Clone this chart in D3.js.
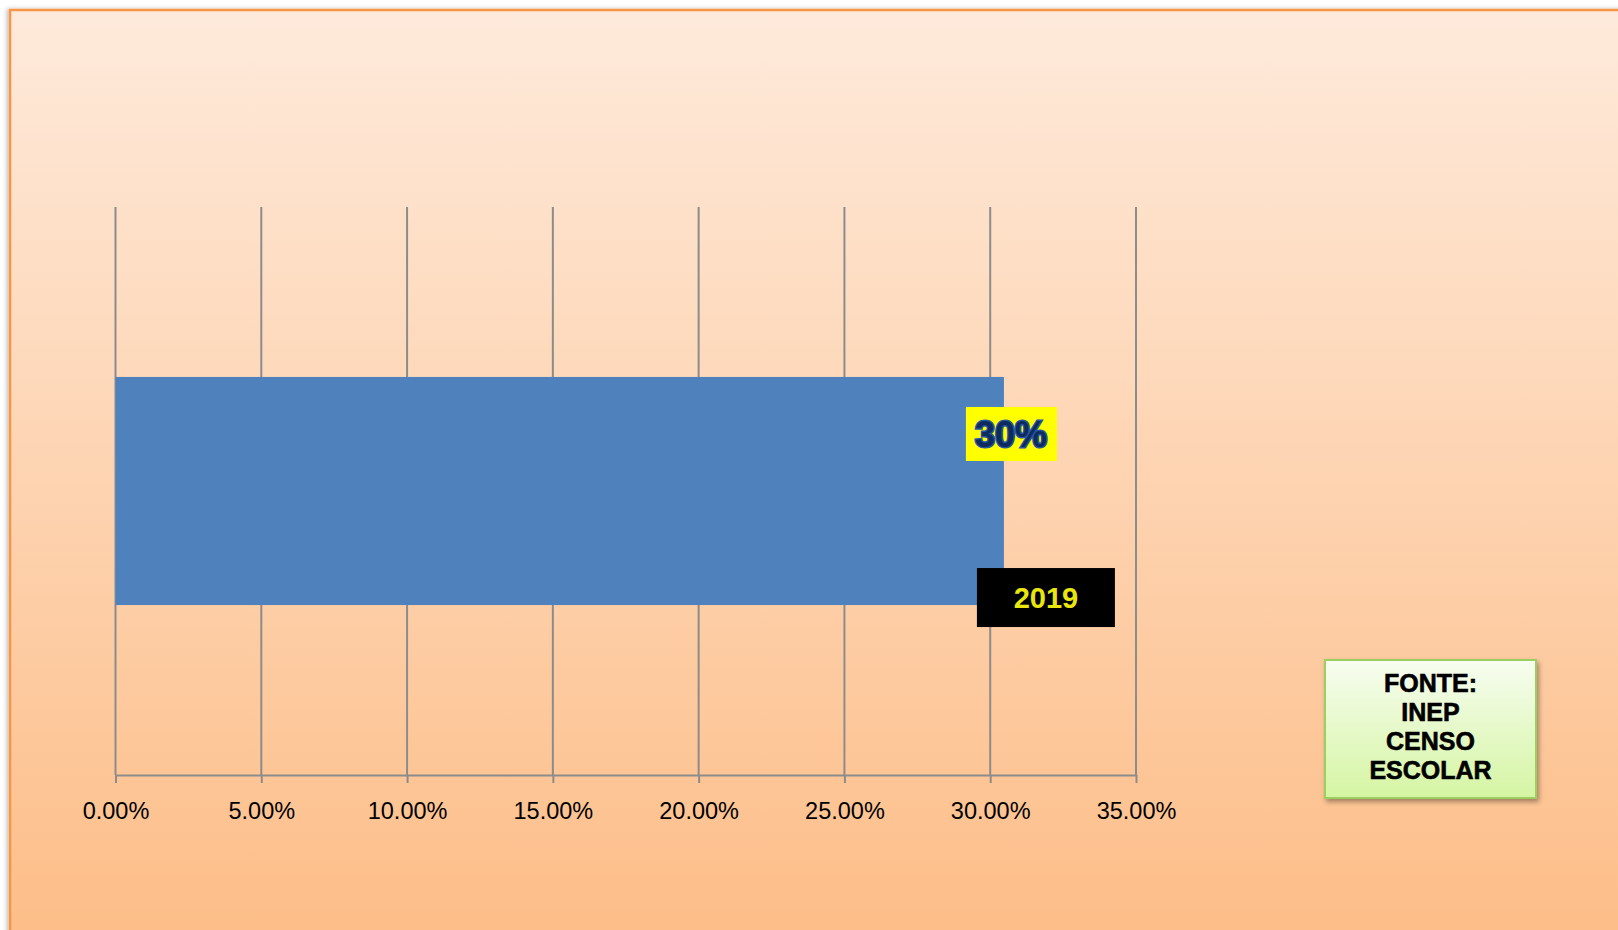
<!DOCTYPE html>
<html>
<head>
<meta charset="utf-8">
<script src="https://cdn.jsdelivr.net/npm/d3@7"></script>
<style>
  body { margin: 0; background: #fff; }
  svg { display: block; }
</style>
</head>
<body>
<svg width="1618" height="930"></svg>
<script>
// data
const categories = ['2019'];
const values = [0.3047];
const valueLabels = ['30%'];
const tickValues = [0, 0.05, 0.10, 0.15, 0.20, 0.25, 0.30, 0.35];
const sourceLines = ['FONTE:', 'INEP', 'CENSO', 'ESCOLAR'];

const svg = d3.select('svg');
const defs = svg.append('defs');

// background gradient (top light peach -> bottom orange)
const bg = defs.append('linearGradient').attr('id', 'bg').attr('x1', 0).attr('y1', 0).attr('x2', 0).attr('y2', 1);
bg.append('stop').attr('offset', '0%').attr('stop-color', '#feeadb');
bg.append('stop').attr('offset', '100%').attr('stop-color', '#fdbd87');

const boxGrad = defs.append('linearGradient').attr('id', 'boxg').attr('x1', 0).attr('y1', 0).attr('x2', 0).attr('y2', 1);
boxGrad.append('stop').attr('offset', '0%').attr('stop-color', '#f7fdf0');
boxGrad.append('stop').attr('offset', '100%').attr('stop-color', '#d5f5a3');

const shadow = defs.append('filter').attr('id', 'shadow').attr('x', '-10%').attr('y', '-10%').attr('width', '130%').attr('height', '130%');
shadow.append('feDropShadow').attr('dx', 2).attr('dy', 3).attr('stdDeviation', 2.5).attr('flood-color', '#000').attr('flood-opacity', 0.35);

const frameShadow = defs.append('filter').attr('id', 'fshadow').attr('x', '-2%').attr('y', '-2%').attr('width', '104%').attr('height', '104%');
frameShadow.append('feDropShadow').attr('dx', -2).attr('dy', 0).attr('stdDeviation', 2).attr('flood-color', '#000').attr('flood-opacity', 0.25);

// chart frame
svg.append('rect')
  .attr('x', 10).attr('y', 10)
  .attr('width', 1620).attr('height', 940)
  .attr('fill', 'url(#bg)')
  .attr('stroke', '#f79646')
  .attr('stroke-width', 2.5)
  .attr('filter', 'url(#fshadow)');

const plot = { left: 115.5, right: 1136, top: 207, bottom: 775 };

const xScale = d3.scaleLinear()
  .domain([0, 0.35])
  .range([plot.left, plot.right]);

const yScale = d3.scaleBand()
  .domain(categories)
  .range([plot.top, plot.bottom])
  .padding(0.427);

// vertical gridlines
svg.append('g')
  .selectAll('line')
  .data(tickValues)
  .enter().append('line')
  .attr('x1', d => xScale(d)).attr('x2', d => xScale(d))
  .attr('y1', plot.top).attr('y2', plot.bottom)
  .attr('stroke', '#8c8c8c')
  .attr('stroke-width', 2);

// bars
svg.append('g')
  .selectAll('rect')
  .data(values)
  .enter().append('rect')
  .attr('x', xScale(0))
  .attr('y', (d, i) => yScale(categories[i]))
  .attr('width', d => xScale(d) - xScale(0))
  .attr('height', yScale.bandwidth())
  .attr('fill', '#4f81bd');

// x axis
const xAxis = d3.axisBottom(xScale)
  .tickValues(tickValues)
  .tickFormat(d => (d * 100).toFixed(2) + '%')
  .tickSize(8)
  .tickPadding(19)
  .tickSizeOuter(0);

const axisG = svg.append('g')
  .attr('transform', `translate(0,${plot.bottom})`)
  .call(xAxis);
axisG.select('.domain').attr('stroke', '#8c8c8c').attr('stroke-width', 2);
axisG.selectAll('.tick line').attr('stroke', '#8c8c8c').attr('stroke-width', 2);
axisG.selectAll('.tick text')
  .attr('fill', '#000')
  .style('font-family', 'Liberation Sans, Arial, sans-serif')
  .style('font-size', '23.5px');

// value label (yellow box)
values.forEach((v, i) => {
  const cx = xScale(v) + 7;
  const cy = yScale(categories[i]) + 57;
  svg.append('rect')
    .attr('x', cx - 45).attr('y', cy - 27)
    .attr('width', 91).attr('height', 54)
    .attr('fill', '#ffff00');
  svg.append('text')
    .attr('x', cx).attr('y', cy + 13)
    .attr('text-anchor', 'middle')
    .attr('fill', '#0f2a5e')
    .attr('stroke', '#2457a3')
    .attr('stroke-width', 3)
    .attr('paint-order', 'stroke')
    .style('font-family', 'Liberation Sans, Arial, sans-serif')
    .style('font-weight', 'bold')
    .style('font-size', '36px')
    .text(valueLabels[i]);

  // category label (black box)
  const lx = xScale(v) + 42;
  const ly = yScale(categories[i]) + yScale.bandwidth() - 8;
  svg.append('rect')
    .attr('x', lx - 69).attr('y', ly - 29)
    .attr('width', 138).attr('height', 59)
    .attr('fill', '#000');
  svg.append('text')
    .attr('x', lx).attr('y', ly + 11)
    .attr('text-anchor', 'middle')
    .attr('fill', '#e8e60c')
    .style('font-family', 'Liberation Sans, Arial, sans-serif')
    .style('font-weight', 'bold')
    .style('font-size', '29px')
    .text(categories[i]);
});

// source box
const src = svg.append('g').attr('transform', 'translate(1325,660)');
src.append('rect')
  .attr('width', 211).attr('height', 138)
  .attr('fill', 'url(#boxg)')
  .attr('stroke', '#9bcf5f')
  .attr('stroke-width', 2)
  .attr('filter', 'url(#shadow)');
src.selectAll('text')
  .data(sourceLines)
  .enter().append('text')
  .attr('x', 105.5)
  .attr('y', (d, i) => 32 + i * 29)
  .attr('text-anchor', 'middle')
  .attr('fill', '#000')
  .attr('stroke', '#000')
  .attr('stroke-width', 0.6)
  .style('font-family', 'Liberation Sans, Arial, sans-serif')
  .style('font-weight', 'bold')
  .style('font-size', '25px')
  .text(d => d);
</script>
</body>
</html>
